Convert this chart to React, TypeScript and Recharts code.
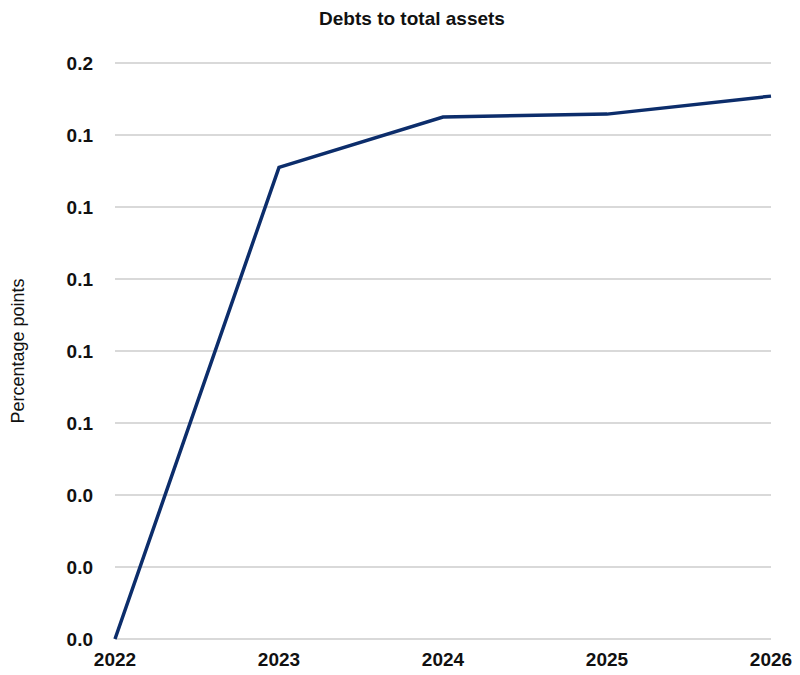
import { CartesianGrid, Line, LineChart, XAxis, YAxis } from 'recharts'

const YEARS = ['2022', '2023', '2024', '2025', '2026']
const DEBT_RATIO = [0, 0.131, 0.145, 0.1458, 0.1508]
const Y_TICKS = [0, 0.02, 0.04, 0.06, 0.08, 0.1, 0.12, 0.14, 0.16]

const FONT = '"Liberation Sans Narrow", "Arial Narrow", "Liberation Sans", sans-serif'
const INK = '#111'
const LINE = '#0c2d6b'
const GRID = '#d9d9d9'

const rows = YEARS.map((year, i) => ({ year, ratio: DEBT_RATIO[i] }))

export default function App() {
  return (
    <div style={{ position: 'absolute', left: 0, top: 0, width: 800, height: 675, background: '#fff' }}>
      <div
        style={{
          position: 'absolute',
          top: 8,
          left: 412,
          transform: 'translateX(-50%)',
          fontFamily: FONT,
          fontWeight: 700,
          fontSize: 19,
          color: INK,
          whiteSpace: 'nowrap',
        }}
      >
        Debts to total assets
      </div>
      <LineChart width={800} height={675} data={rows} margin={{ top: 63, right: 29, bottom: 6, left: 10 }}>
        <CartesianGrid stroke={GRID} strokeWidth={2} vertical={false} />
        <XAxis
          dataKey="year"
          axisLine={false}
          tickLine={false}
          height={30}
          tickMargin={8}
          interval={0}
          padding={{ left: 0, right: 0 }}
          tick={{ fill: INK, fontSize: 19, fontWeight: 700, fontFamily: FONT }}
        />
        <YAxis
          type="number"
          domain={[0, 0.16]}
          ticks={Y_TICKS}
          axisLine={false}
          tickLine={false}
          width={105}
          tickMargin={16}
          tickFormatter={(v: number) => v.toFixed(1)}
          tick={{ fill: INK, fontSize: 19, fontWeight: 700, fontFamily: FONT }}
          label={{
            value: 'Percentage points',
            angle: -90,
            position: 'insideLeft',
            offset: 0,
            dx: 8,
            style: { fill: INK, fontSize: 18, fontFamily: FONT, textAnchor: 'middle' },
          }}
        />
        <Line
          type="linear"
          dataKey="ratio"
          stroke={LINE}
          strokeWidth={3.5}
          dot={false}
          activeDot={false}
          isAnimationActive={false}
        />
      </LineChart>
    </div>
  )
}
